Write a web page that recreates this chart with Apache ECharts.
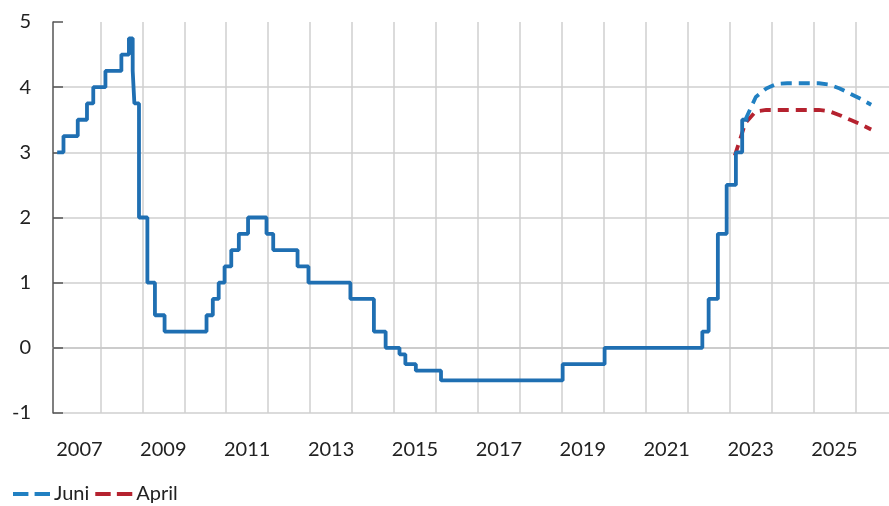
<!DOCTYPE html>
<html>
<head>
<meta charset="utf-8">
<script src="https://cdn.jsdelivr.net/npm/echarts@6/dist/echarts.min.js"></script>
<style>
html,body{margin:0;padding:0;background:#fff;}
#chart{width:889px;height:506px;}
</style>
</head>
<body>
<div id="chart"></div>
<script>
// Policy rate history: change dates (decimal years) and new rate levels
const histDates = [2006.97, 2007.12, 2007.46, 2007.68, 2007.83, 2008.12, 2008.50, 2008.68, 2008.77, 2008.81,
  2008.92, 2009.12, 2009.30, 2009.53, 2010.53, 2010.68, 2010.82, 2010.96, 2011.12, 2011.30,
  2011.52, 2011.96, 2012.12, 2012.70, 2012.96, 2013.96, 2014.52, 2014.80, 2015.13, 2015.27,
  2015.52, 2016.12, 2019.02, 2020.02, 2022.35, 2022.50, 2022.72, 2022.93, 2023.15, 2023.30, 2023.45];
const histRates = [3.00, 3.25, 3.50, 3.75, 4.00, 4.25, 4.50, 4.75, 4.25, 3.75,
  2.00, 1.00, 0.50, 0.25, 0.50, 0.75, 1.00, 1.25, 1.50, 1.75,
  2.00, 1.75, 1.50, 1.25, 1.00, 0.75, 0.25, 0.00, -0.10, -0.25,
  -0.35, -0.50, -0.25, 0.00, 0.25, 0.75, 1.75, 2.50, 3.00, 3.50, 3.50];

// Forecasts (quarterly, mid-quarter positions)
const juniQuarters = [2023.375, 2023.625, 2023.875, 2024.125, 2024.375, 2024.625, 2024.875,
  2025.125, 2025.375, 2025.625, 2025.875, 2026.125, 2026.375];
const juniValues = [3.50, 3.85, 3.98, 4.05, 4.06, 4.06, 4.06, 4.06, 4.04, 3.98, 3.90, 3.82, 3.73];
const aprilQuarters = [2023.125, 2023.375, 2023.625, 2023.875, 2024.125, 2024.375, 2024.625,
  2024.875, 2025.125, 2025.375, 2025.625, 2025.875, 2026.125, 2026.375];
const aprilValues = [2.95, 3.45, 3.63, 3.65, 3.65, 3.65, 3.65, 3.65, 3.65, 3.63, 3.57, 3.50, 3.43, 3.35];

// Axis ticks
const yearLines = [2008, 2009, 2010, 2011, 2012, 2013, 2014, 2015, 2016, 2017, 2018,
  2019, 2020, 2021, 2022, 2023, 2024, 2025, 2026];
const yearLabels = [2007, 2009, 2011, 2013, 2015, 2017, 2019, 2021, 2023, 2025];

const zip = (xs, ys) => xs.map((x, i) => [x, ys[i]]);
const FONT = 'Lato';
const blue = '#1f6fb2';
const blueF = '#2180c2';
const red = '#b5222f';
const dashIcon = 'path://M0,0H15V4H0Z M21,0H36V4H21Z';

const chart = echarts.init(document.getElementById('chart'), null, {renderer: 'canvas'});
chart.setOption({
  animation: false,
  backgroundColor: '#fff',
  grid: {left: 53, right: 0, top: 22, bottom: 93, containLabel: false},
  legend: {
    data: [
      {name: 'Juni', icon: dashIcon, itemStyle: {color: blueF}},
      {name: 'April', icon: dashIcon, itemStyle: {color: red}}
    ],
    left: 13, top: 484, padding: 0,
    itemWidth: 37, itemHeight: 5, itemGap: 6,
    textStyle: {fontFamily: FONT, fontSize: 20, color: '#222', padding: [0, 0, 0, -1]}
  },
  xAxis: {
    type: 'value',
    min: 2006.87, max: 2026.8,
    axisLine: {show: true, lineStyle: {color: '#c8c8c8', width: 1.5}},
    axisTick: {show: false, customValues: yearLines},
    splitLine: {show: true, lineStyle: {color: '#cfcfcf', width: 1.5}},
    axisLabel: {
      customValues: yearLabels.map(y => y + 0.5),
      formatter: v => String(Math.floor(v)),
      fontFamily: FONT, fontSize: 20, color: '#222', margin: 27
    }
  },
  yAxis: {
    type: 'value',
    min: -1, max: 5, interval: 1,
    axisLine: {show: true, lineStyle: {color: '#555', width: 1.5}},
    axisTick: {show: true, inside: true, length: 10, lineStyle: {color: '#555', width: 1.5}},
    splitLine: {show: true, showMaxLine: false, lineStyle: {color: '#cfcfcf', width: 1.5}},
    axisLabel: {fontFamily: FONT, fontSize: 20, color: '#222', margin: 22}
  },
  series: [
    {
      name: 'April', type: 'line', data: zip(aprilQuarters, aprilValues),
      symbol: 'none', smooth: false,
      lineStyle: {color: red, width: 3.8, type: [11, 7]},
      itemStyle: {color: red}, z: 2
    },
    {
      name: 'Reporänta', type: 'line', data: zip(histDates, histRates),
      step: 'end', symbol: 'none',
      lineStyle: {color: blue, width: 3.8},
      itemStyle: {color: blue}, z: 3
    },
    {
      name: 'Juni', type: 'line', data: zip(juniQuarters, juniValues),
      symbol: 'none',
      lineStyle: {color: blueF, width: 3.8, type: [11, 7]},
      itemStyle: {color: blueF}, z: 4
    }
  ]
});
</script>
</body>
</html>
